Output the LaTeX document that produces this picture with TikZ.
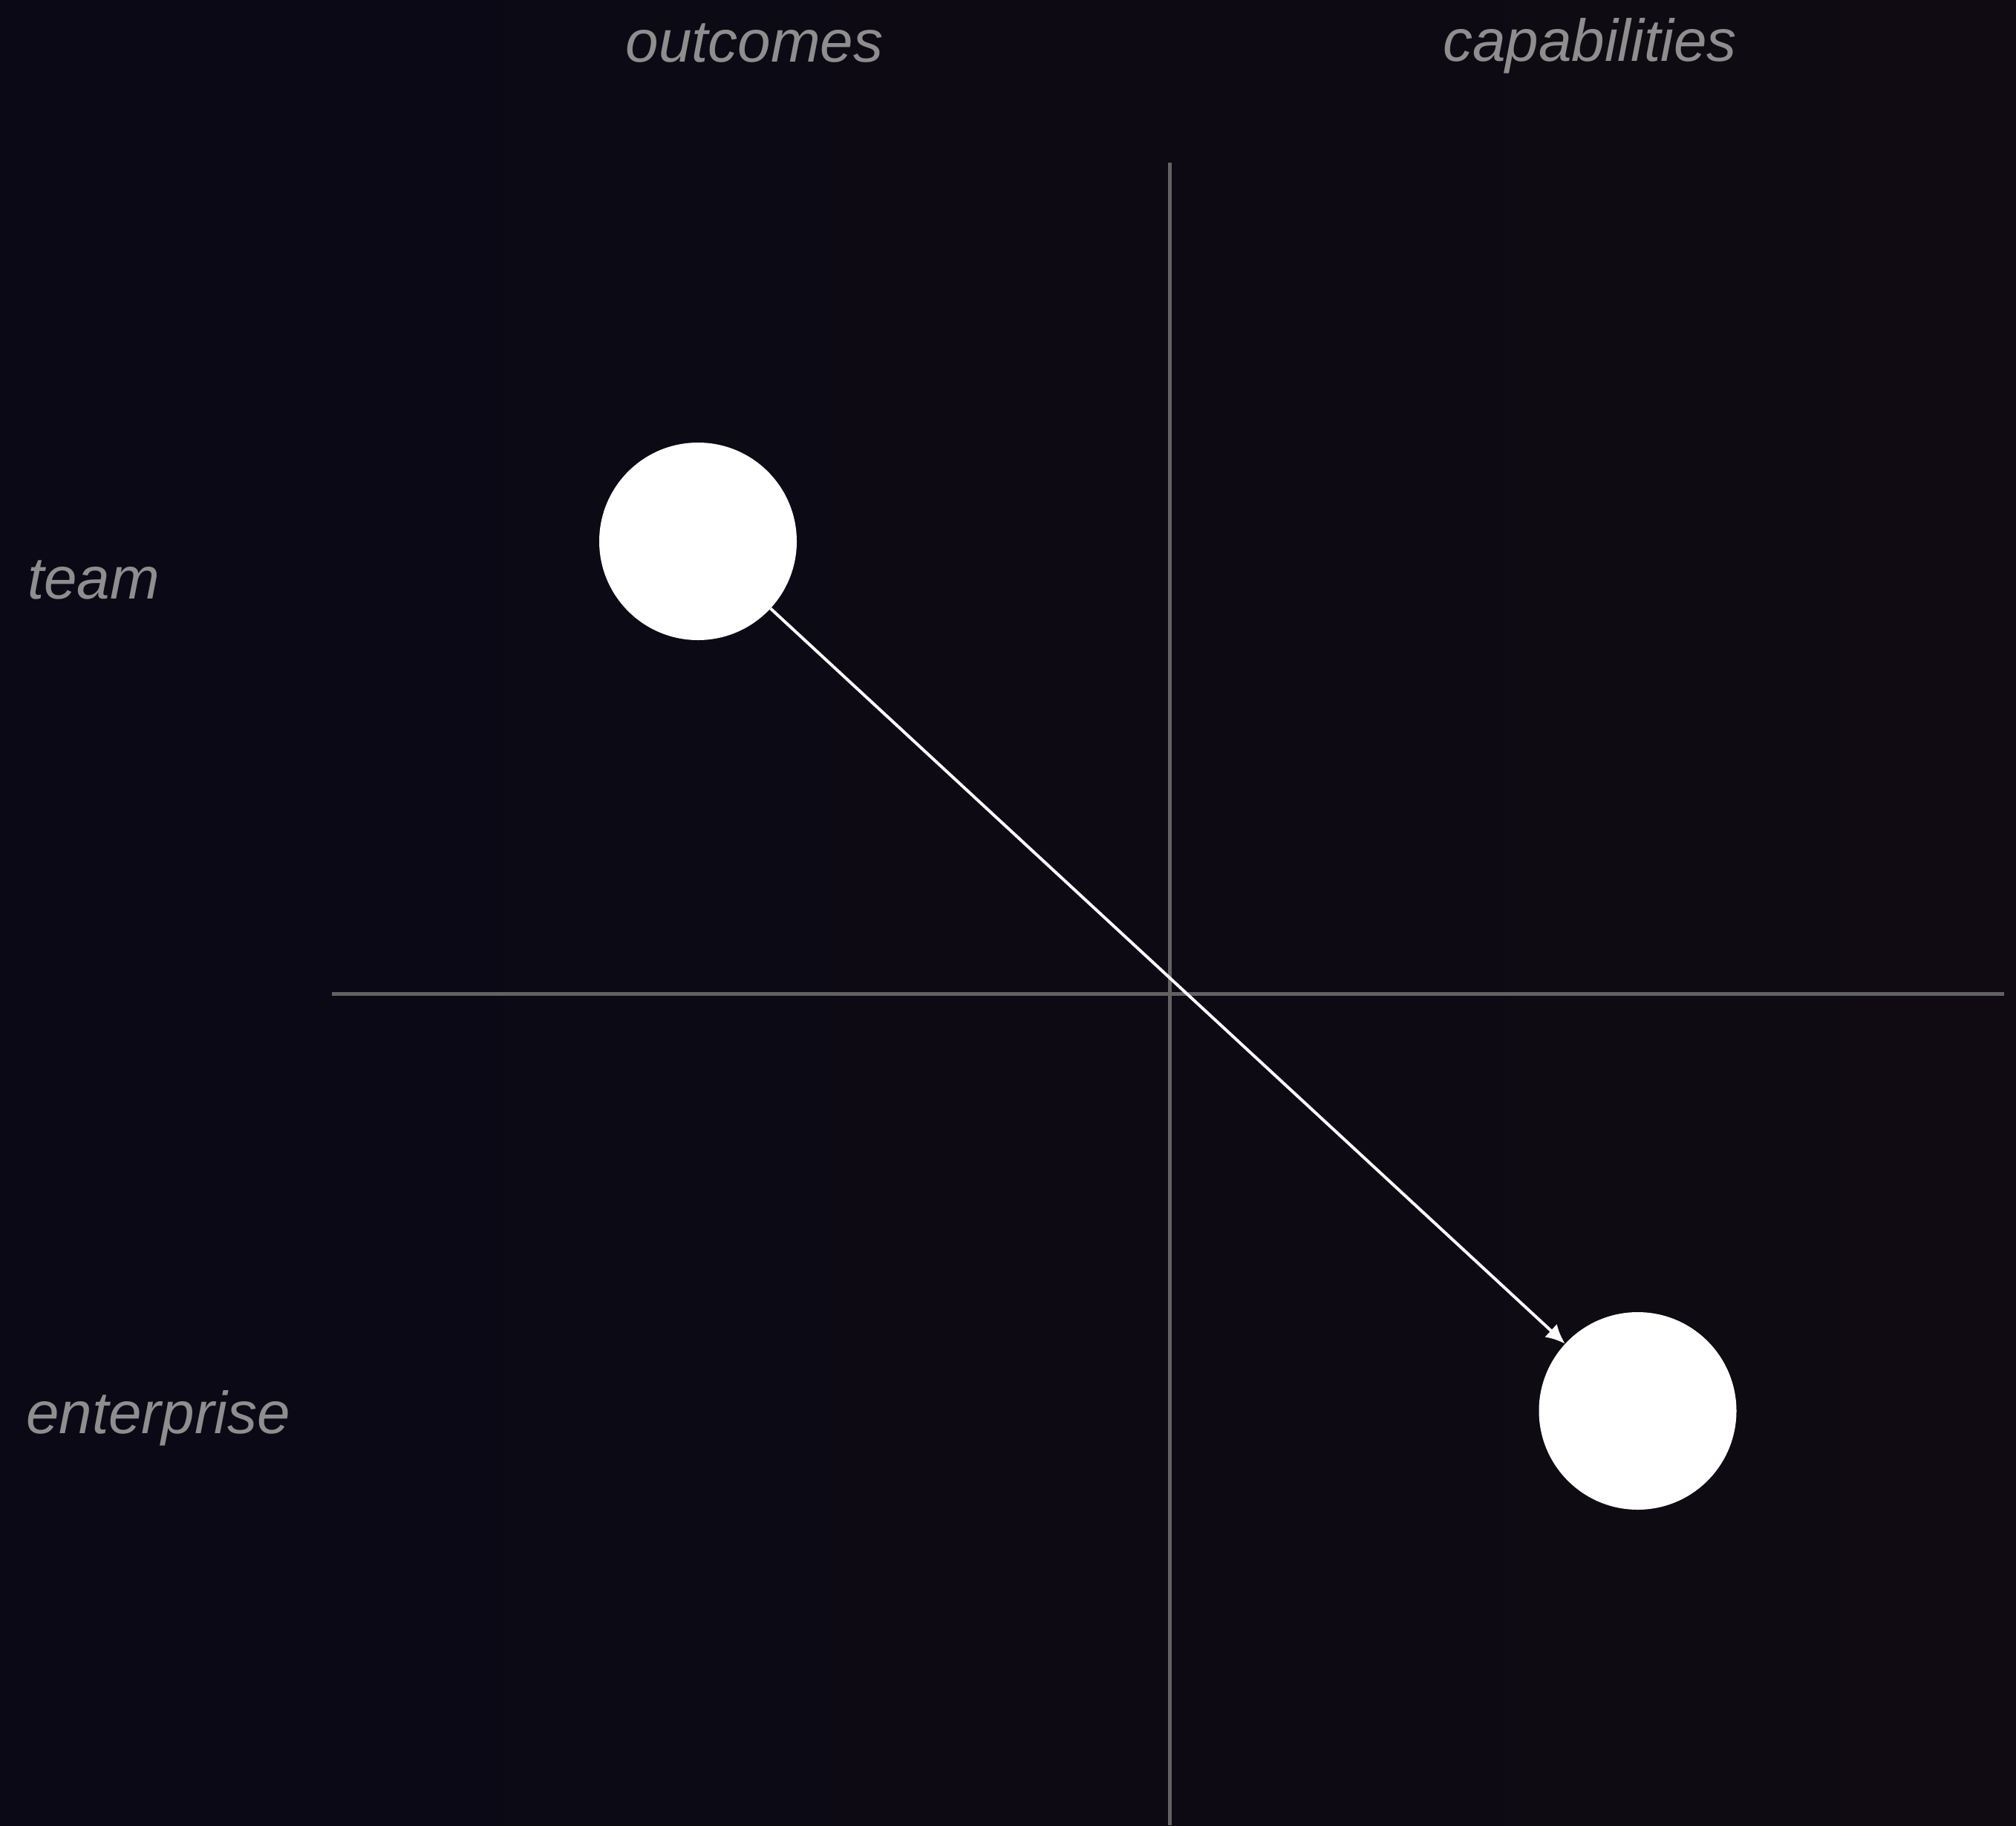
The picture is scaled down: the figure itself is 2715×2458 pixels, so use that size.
\documentclass[tikz,border=0pt]{standalone}
\usepackage{fontspec}
\setmainfont{Liberation Sans}
\usetikzlibrary{arrows.meta}
\definecolor{bgleft}{HTML}{0A0915}
\definecolor{bgright}{HTML}{100B13}
\definecolor{axisgray}{HTML}{626262}
\definecolor{labelgray}{HTML}{8E8E8E}
\tikzset{
  dot/.style={circle, fill=white, draw=none, minimum size=266pt, inner sep=0pt},
  axisline/.style={draw=axisgray, line width=5pt},
  lbl/.style={text=labelgray, font=\fontsize{80}{96}\selectfont\itshape, inner sep=0pt},
  flow/.style={draw=white, line width=4pt, -{Latex[length=26pt,width=24pt]}}
}
\begin{document}
\begin{tikzpicture}[x=1pt,y=-1pt]
\useasboundingbox (0,0) rectangle (2715,2458);
\shade[left color=bgleft, right color=bgright] (0,0) rectangle (2715,2458);
% axes
\coordinate (vtop) at (1575.5,219);
\coordinate (vbot) at (1575.5,2458);
\coordinate (hleft) at (447,1338);
\coordinate (hright) at (2699,1338);
\draw[axisline] (vtop) -- (vbot);
\draw[axisline] (hleft) -- (hright);
% labels
\node[lbl, anchor=base] (outcomes) at (1016,83) {outcomes};
\node[lbl, anchor=base] (capabilities) at (2141,82) {capabilities};
\node[lbl, anchor=base west] (team) at (37,806) {team};
\node[lbl, anchor=base west] (enterprise) at (35,1930) {enterprise};
% dots
\node[dot] (a) at (940,729) {};
\node[dot] (b) at (2205.5,1900) {};
\draw[flow] (a) -- (b);
\end{tikzpicture}
\end{document}
